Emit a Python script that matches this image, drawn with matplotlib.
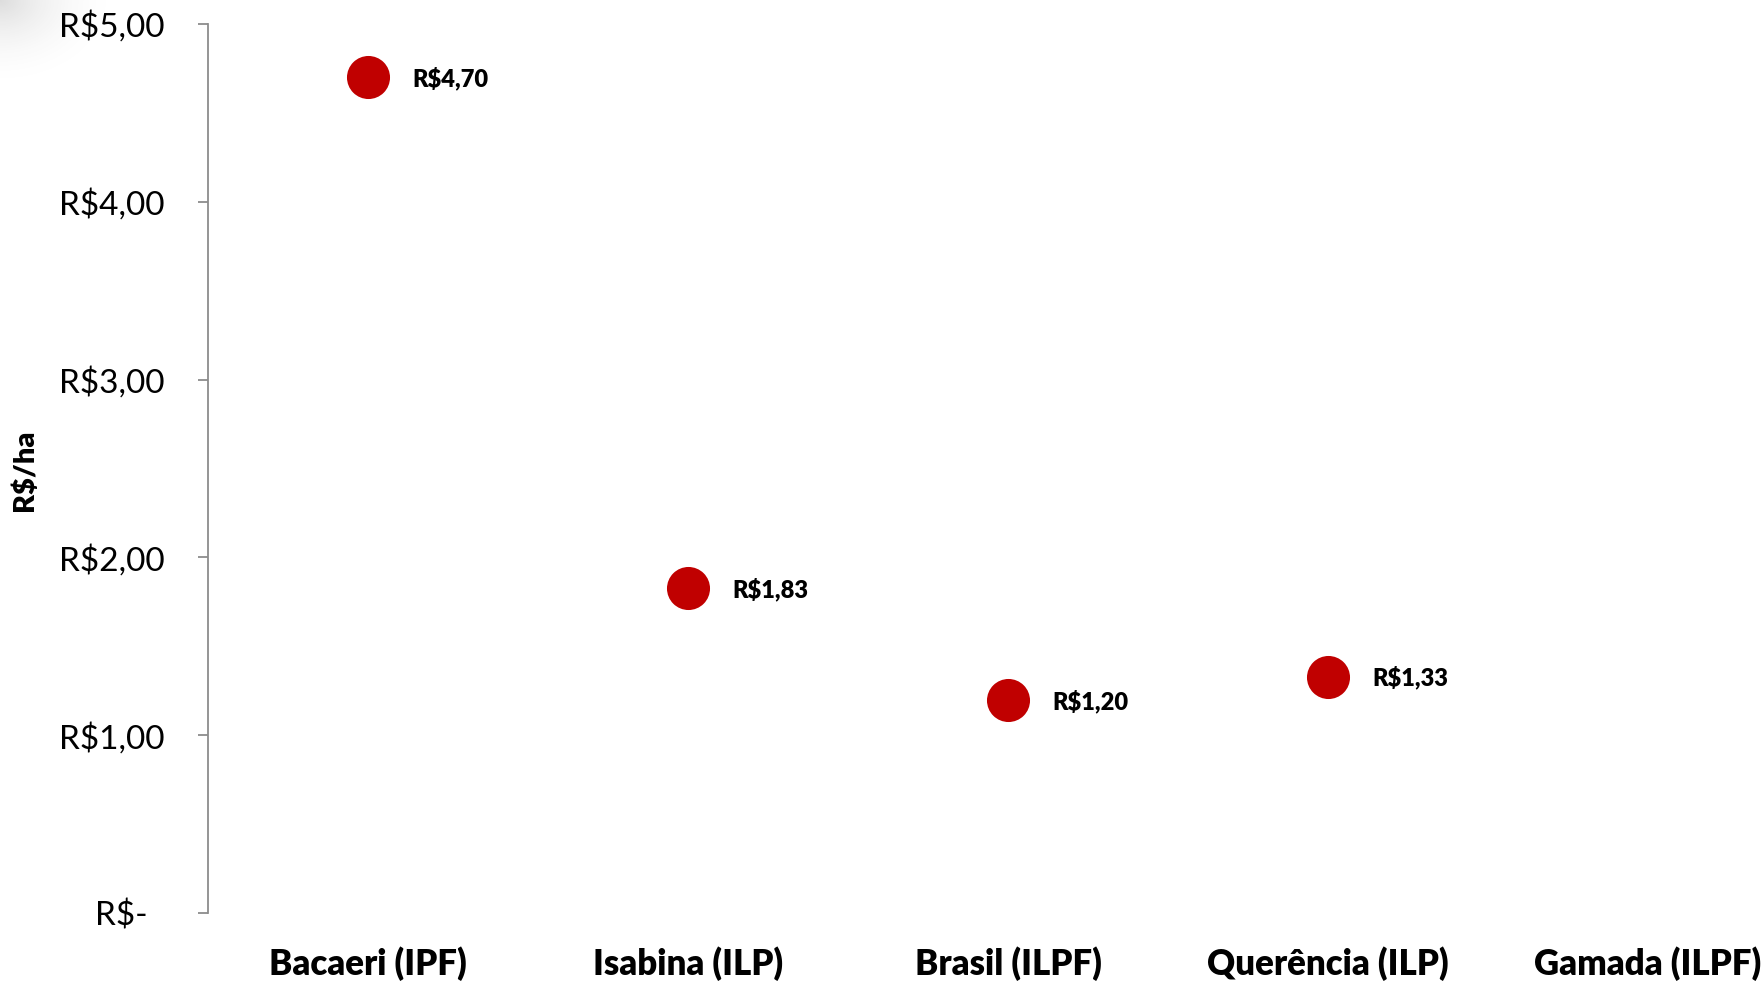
import numpy as np
import matplotlib
matplotlib.use("Agg")
import matplotlib.pyplot as plt
from matplotlib.ticker import FuncFormatter

categories = ["Bacaeri (IPF)", "Isabina (ILP)", "Brasil (ILPF)", "Querência (ILP)", "Gamada (ILPF)"]
values = [4.70, 1.83, 1.20, 1.33, np.nan]
y_ticks = [0, 1, 2, 3, 4, 5]

plt.rcParams['font.family'] = ['Lato', 'DejaVu Sans']

W, H = 1764, 981
fig = plt.figure(figsize=(W / 100, H / 100), dpi=100)

# decorative soft shadow in top-left corner
gx, gy = np.meshgrid(np.linspace(0, 1, 120), np.linspace(0, 1, 80))
r = np.sqrt((gx) ** 2 + (gy * 0.9) ** 2)
alpha = np.clip(1 - r / 1.0, 0, 1) ** 2 * 0.3
img = np.zeros((80, 120, 4))
img[..., :3] = 0.55
img[..., 3] = alpha
bg = fig.add_axes([0, 1 - 80 / H, 120 / W, 80 / H])
bg.imshow(img, aspect='auto', interpolation='bilinear')
bg.axis('off')

left, right = 208, 1808
top, bottom = 24, 913
ax = fig.add_axes([left / W, 1 - bottom / H, (right - left) / W, (bottom - top) / H])

x = np.arange(len(categories))
ax.scatter(x, values, s=31 ** 2, color='#C00000', zorder=3, linewidths=0)

for xi, v in zip(x, values):
    if not np.isnan(v):
        ax.annotate(f"R${v:.2f}".replace('.', ','), (xi, v), xytext=(32, -1),
                    textcoords='offset points', ha='left', va='center',
                    fontsize=17, fontweight='heavy', color='black')

ax.set_xlim(-0.5, len(categories) - 0.5)
ax.set_ylim(0, 5)
ax.set_yticks(y_ticks)
ax.yaxis.set_major_formatter(FuncFormatter(lambda v, p: "R$-  " if v == 0 else f"R${v:.2f}".replace('.', ',')))
ax.set_xticks(x)
ax.set_xticklabels(categories, fontsize=25, fontweight='heavy')

for s in ['top', 'right', 'bottom']:
    ax.spines[s].set_visible(False)
ax.spines['left'].set_color('#8C8C8C')
ax.spines['left'].set_linewidth(1.3)
ax.tick_params(axis='y', direction='out', length=7, width=1.3, color='#8C8C8C',
               labelsize=24, pad=24)
ax.tick_params(axis='x', length=0, pad=24)

fig.text(25 / W, 1 - 470 / H, "R$/ha", rotation=90, ha='center', va='center',
         fontsize=21, fontweight='heavy')

fig.savefig("out.png", dpi=100)
